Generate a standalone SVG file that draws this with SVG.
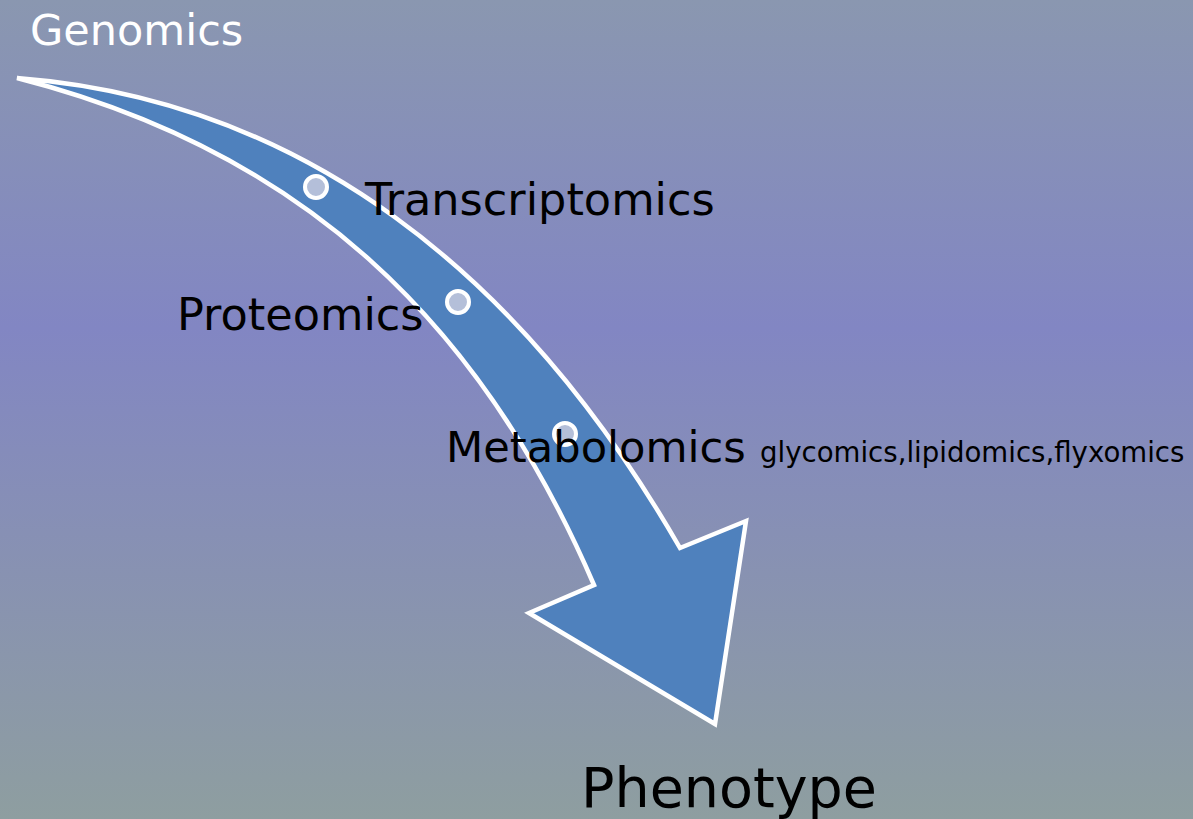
<svg xmlns="http://www.w3.org/2000/svg" width="1193" height="819" viewBox="0 0 1193 819">
<defs>
<linearGradient id="bg" x1="0" y1="0" x2="0" y2="1">
<stop offset="0" stop-color="#8a97b0"/>
<stop offset="0.4" stop-color="#8286c3"/>
<stop offset="1" stop-color="#8e9ea0"/>
</linearGradient>
<style>
.t{font-family:"DejaVu Sans",sans-serif;fill:#000}
.dot{fill:#b4bfd9;stroke:#fff;stroke-width:4}
</style>
</defs>
<rect width="1193" height="819" fill="url(#bg)"/>
<g id="connectors">
<path id="arrow" d="M17,78 C300,100 520,270 680,548 L746,521 L715,724 L529,613 L594,585 C480,320 300,150 17,78 Z" fill="#4f81bd" stroke="#fff" stroke-width="4.5" stroke-linejoin="miter"/>
</g>
<g id="dot1"><circle class="dot" cx="316" cy="187" r="11"/></g>
<g id="dot2"><circle class="dot" cx="458" cy="302" r="11"/></g>
<g id="dot3"><circle class="dot" cx="565" cy="434" r="11"/></g>
<g id="genomics"><text class="t" x="30" y="45" font-size="43" style="fill:#fff">Genomics</text></g>
<g id="transcriptomics"><text class="t" x="365" y="215" font-size="44.6">Transcriptomics</text></g>
<g id="proteomics"><text class="t" x="177" y="330" font-size="44.6">Proteomics</text></g>
<g id="metabolomics"><text class="t" x="446" y="462" font-size="43.2">Metabolomics</text>
<text class="t" x="760" y="462" font-size="27.6">glycomics,lipidomics,flyxomics</text></g>
<g id="phenotype"><text class="t" x="581" y="807" font-size="55.5">Phenotype</text></g>
</svg>
